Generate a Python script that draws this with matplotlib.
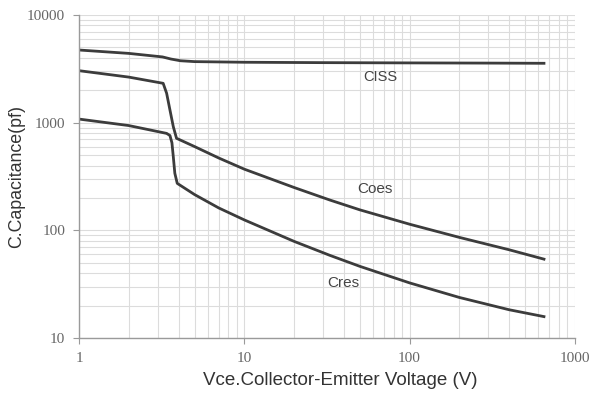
import matplotlib.pyplot as plt
from matplotlib.ticker import LogLocator, FixedLocator, NullFormatter

# Ёмкости IGBT в зависимости от напряжения коллектор-эмиттер
vce_ciss = [1, 2, 3.2, 3.6, 4.1, 5, 10, 30, 100, 300, 650]
ciss = [4730, 4400, 4080, 3900, 3760, 3690, 3640, 3610, 3590, 3575, 3560]

vce_coes = [1, 2, 3.23, 3.39, 3.55, 3.72, 3.89, 5, 7, 10, 20, 33, 50, 100, 200, 400, 650]
coes = [3040, 2650, 2320, 1875, 1313, 918, 716, 600, 470, 370, 250, 191, 155, 114, 86, 66, 54]

vce_cres = [1, 2, 3.39, 3.55, 3.65, 3.72, 3.8, 3.93, 5, 7, 10, 20, 33, 50, 100, 200, 400, 650]
cres = [1080, 940, 795, 760, 650, 483, 339, 273, 215, 161.5, 125, 79, 58.5, 46.3, 32.5, 23.8, 18.3, 15.8]

x_ticks = [1, 10, 100, 1000]
y_ticks = [10, 100, 1000, 10000]

line_color = '#3c3c3c'
grid_color = '#dcdcdc'
text_color = '#444444'

fig = plt.figure(figsize=(6.09, 4.0), dpi=100)
ax = fig.add_axes([0.1297, 0.155, 0.8143, 0.8075])

ax.plot(vce_ciss, ciss, color=line_color, lw=2)
ax.plot(vce_coes, coes, color=line_color, lw=2)
ax.plot(vce_cres, cres, color=line_color, lw=2)

ax.set_xscale('log')
ax.set_yscale('log')
ax.set_xlim(1, 1000)
ax.set_ylim(10, 10000)

ax.xaxis.set_major_locator(FixedLocator(x_ticks))
ax.yaxis.set_major_locator(FixedLocator(y_ticks))
ax.set_xticklabels([str(v) for v in x_ticks])
ax.set_yticklabels([str(v) for v in y_ticks])
ax.xaxis.set_minor_locator(LogLocator(base=10, subs=range(2, 10)))
ax.yaxis.set_minor_locator(LogLocator(base=10, subs=range(2, 10)))
ax.xaxis.set_minor_formatter(NullFormatter())
ax.yaxis.set_minor_formatter(NullFormatter())

ax.grid(True, which='both', color=grid_color, lw=0.8)
ax.set_axisbelow(True)

for side in ['top', 'right']:
    ax.spines[side].set_visible(False)
for side in ['left', 'bottom']:
    ax.spines[side].set_color('#9a9a9a')
    ax.spines[side].set_linewidth(1.0)

ax.tick_params(which='major', length=4, color='#9a9a9a', labelcolor='#666666', pad=6)
ax.tick_params(which='minor', length=0)
for lbl in ax.get_xticklabels() + ax.get_yticklabels():
    lbl.set_fontfamily('Liberation Serif')
    lbl.set_fontsize(11)

ax.set_xlabel('Vce.Collector-Emitter Voltage (V)', fontsize=13.5, color='#333333',
              fontfamily='Liberation Sans', labelpad=5, x=0.526)
ax.set_ylabel('C.Capacitance(pf)', fontsize=12.8, color='#333333',
              fontfamily='Liberation Sans', labelpad=1)

# Подписи кривых
ax.text(66.8, 2655, 'CISS', fontsize=10.5, color=text_color, fontfamily='Liberation Sans',
        ha='center', va='center')
ax.text(61.5, 241, 'Coes', fontsize=11, color=text_color, fontfamily='Liberation Sans',
        ha='center', va='center')
ax.text(39.5, 32.3, 'Cres', fontsize=11, color=text_color, fontfamily='Liberation Sans',
        ha='center', va='center')

fig.savefig('out.png', dpi=100)
